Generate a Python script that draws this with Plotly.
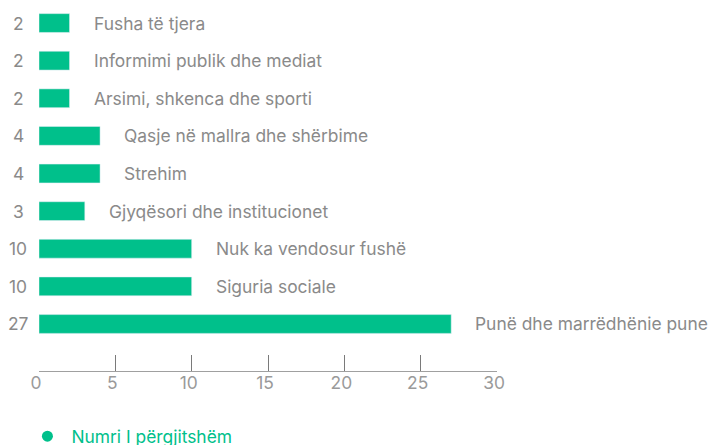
import plotly.graph_objects as go

categories = [
    "Fusha të tjera",
    "Informimi publik dhe mediat",
    "Arsimi, shkenca dhe sporti",
    "Qasje në mallra dhe shërbime",
    "Strehim",
    "Gjyqësori dhe institucionet",
    "Nuk ka vendosur fushë",
    "Siguria sociale",
    "Punë dhe marrëdhënie pune",
]
values = [2, 2, 2, 4, 4, 3, 10, 10, 27]
x_ticks = [0, 5, 10, 15, 20, 25, 30]
series_name = "Numri I përgjitshëm"

GREEN = "#00c08b"
GREY = "#8a8a8a"
FONT = "Inter"
FSIZE = 17.4

fig = go.Figure()

fig.add_trace(go.Bar(
    x=values,
    y=categories,
    orientation="h",
    width=0.5,
    marker_color=GREEN,
    showlegend=False,
    hoverinfo="x+y",
))

# legend entry with a round marker
fig.add_trace(go.Scatter(
    x=[None], y=[None],
    mode="markers",
    marker=dict(color=GREEN, size=11, symbol="circle"),
    name=series_name,
))

# category names to the right of each bar, values to the left of the axis
for cat, val in zip(categories, values):
    fig.add_annotation(
        x=val, y=cat, text=cat, showarrow=False,
        xanchor="left", xshift=22,
        font=dict(family=FONT, size=FSIZE, color=GREY),
    )
    fig.add_annotation(
        x=0, y=cat, text=str(val), showarrow=False,
        xanchor="center", xshift=-21,
        font=dict(family=FONT, size=FSIZE, color=GREY),
    )

# page body has an 8px margin, so the figure is sized to fit inside the window
fig.update_layout(
    width=708,
    height=437,
    margin=dict(l=31, r=219, t=0, b=74, autoexpand=False),
    paper_bgcolor="white",
    plot_bgcolor="white",
    font=dict(family=FONT, size=FSIZE, color=GREY),
    xaxis=dict(
        range=[0, 30],
        tickvals=x_ticks,
        showgrid=False,
        zeroline=False,
        showline=True,
        linecolor="#a0a0a0",
        linewidth=1,
        ticks="inside",
        ticklen=16,
        tickcolor="#7a7a7a",
        ticklabelstandoff=-4,
        ticklabelshift=-3,
        tickfont=dict(family=FONT, size=FSIZE, color="#9a9a9a"),
    ),
    yaxis=dict(
        categoryorder="array",
        categoryarray=categories[::-1],
        range=[-1.25, 8.4],
        showticklabels=False,
        showgrid=False,
        zeroline=False,
        showline=False,
    ),
    legend=dict(
        orientation="h",
        x=-0.034, xanchor="left",
        y=-0.18, yanchor="middle",
        itemwidth=38,
        font=dict(family=FONT, size=FSIZE, color=GREEN),
    ),
)

fig.write_html("out.html")
